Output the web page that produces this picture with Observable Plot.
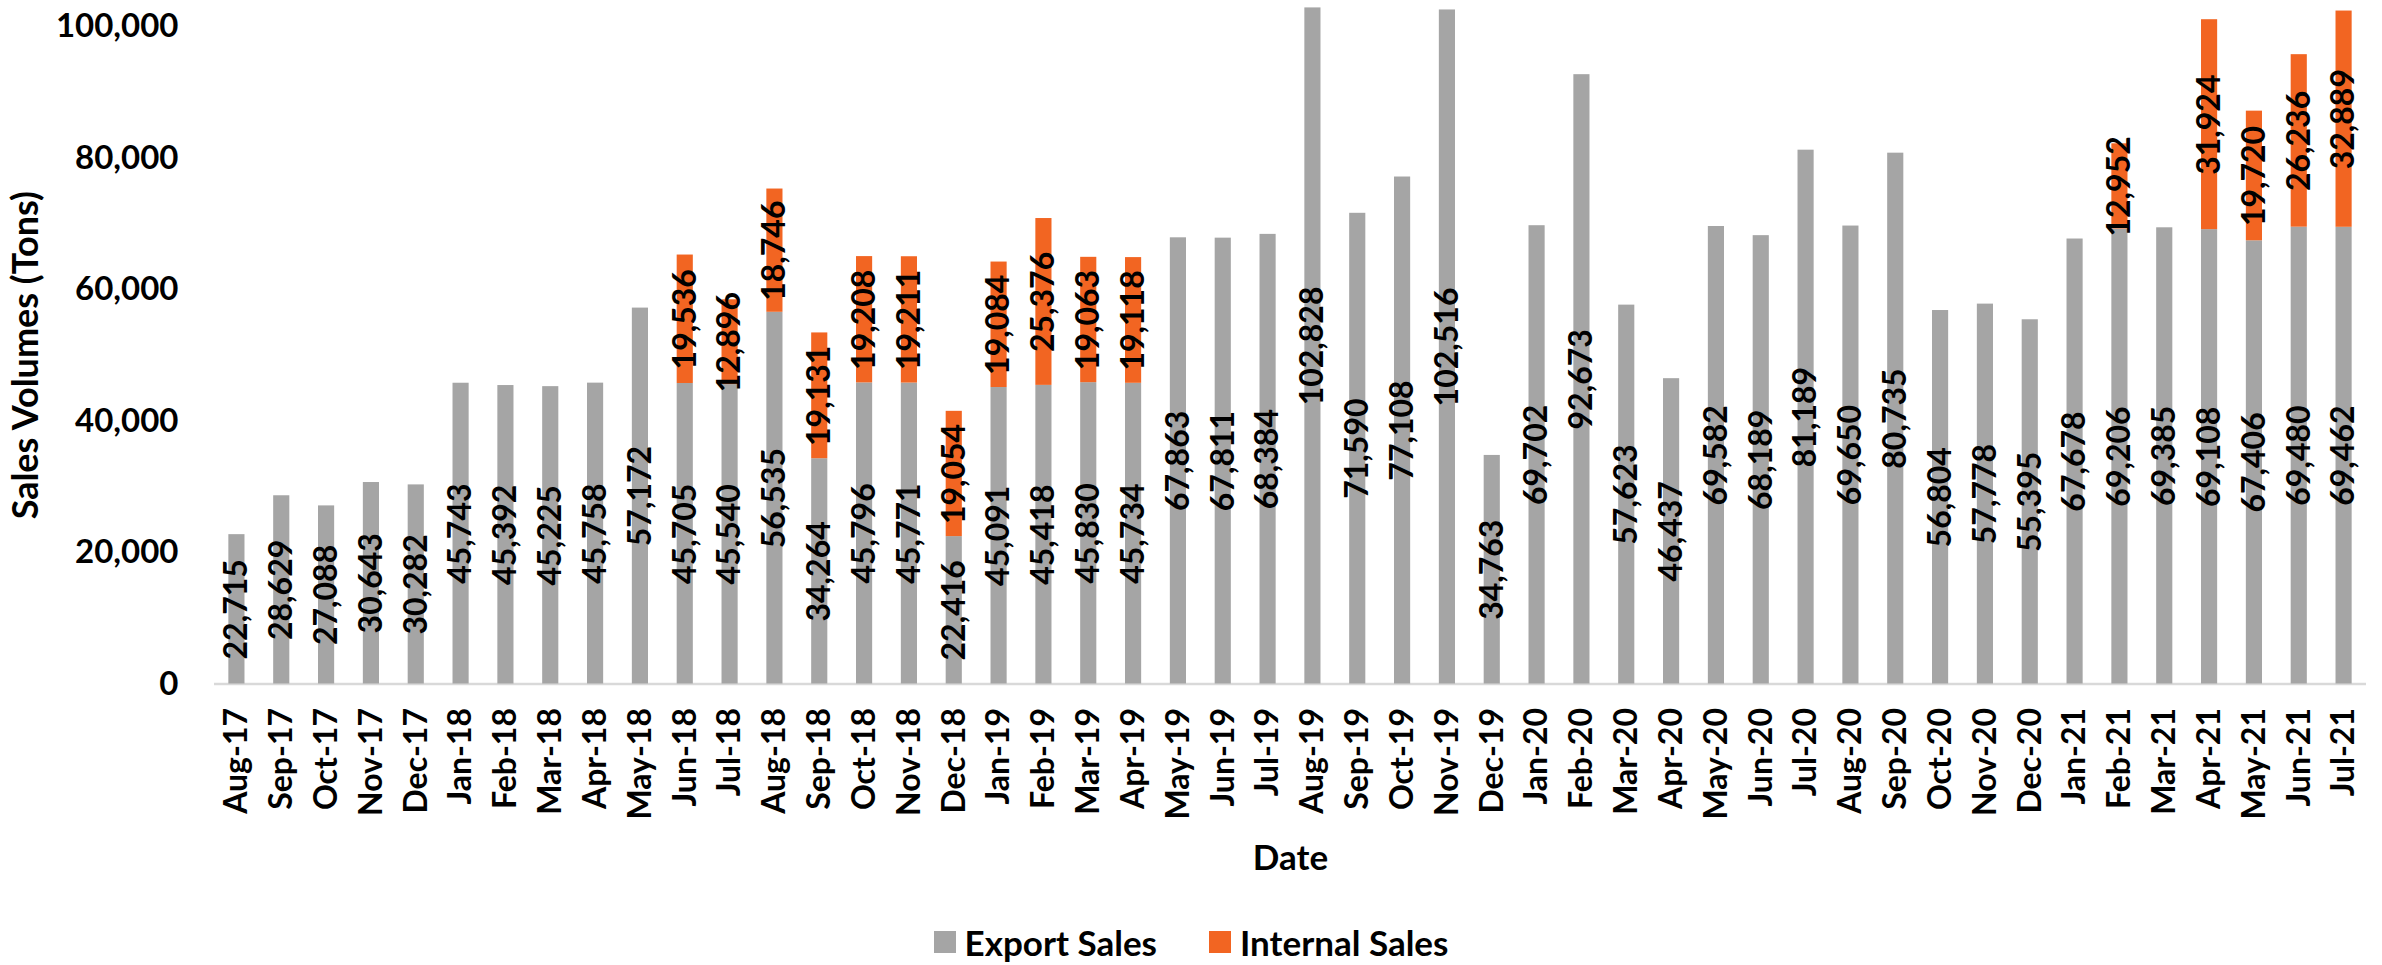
<!DOCTYPE html>
<html>
<head>
<meta charset="utf-8">
<script src="https://cdn.jsdelivr.net/npm/d3@7"></script>
<script src="https://cdn.jsdelivr.net/npm/@observablehq/plot@0.6"></script>
<style>
  html, body { margin: 0; padding: 0; background: #fff; overflow: hidden; }
  #chart svg { display: block; }
  g[aria-label="y-axis tick label"] text { font-family: Lato, "Open Sans", sans-serif; font-size: 33px; font-weight: bold; }
  g[aria-label="y-axis label"] text { font-family: Lato, "Open Sans", sans-serif; font-size: 36px; font-weight: bold; }
  g[aria-label="x-axis tick label"] text { font-family: Lato, "Open Sans", sans-serif; font-size: 32px; font-weight: bold; }
  g[aria-label="x-axis label"] text { font-family: Lato, "Open Sans", sans-serif; font-size: 35px; font-weight: bold; }
  #legend { height: 65px; display: flex; justify-content: center; align-items: flex-start; box-sizing: border-box;
            font-family: Lato, "Open Sans", sans-serif; font-weight: bold; font-size: 35px; color: #000; }
  #legend .item { display: flex; align-items: center; margin: 24px 26px 0 26px; line-height: 36px; }
  #legend .sw { width: 22px; height: 22px; margin-right: 9px; }
</style>
</head>
<body>
<div id="chart"></div>
<div id="legend"></div>
<script>
const months = ["Aug-17","Sep-17","Oct-17","Nov-17","Dec-17",
  "Jan-18","Feb-18","Mar-18","Apr-18","May-18","Jun-18","Jul-18","Aug-18","Sep-18","Oct-18","Nov-18","Dec-18",
  "Jan-19","Feb-19","Mar-19","Apr-19","May-19","Jun-19","Jul-19","Aug-19","Sep-19","Oct-19","Nov-19","Dec-19",
  "Jan-20","Feb-20","Mar-20","Apr-20","May-20","Jun-20","Jul-20","Aug-20","Sep-20","Oct-20","Nov-20","Dec-20",
  "Jan-21","Feb-21","Mar-21","Apr-21","May-21","Jun-21","Jul-21"];
const exportSales = [22715,28629,27088,30643,30282,
  45743,45392,45225,45758,57172,45705,45540,56535,34264,45796,45771,22416,
  45091,45418,45830,45734,67863,67811,68384,102828,71590,77108,102516,34763,
  69702,92673,57623,46437,69582,68189,81189,69650,80735,56804,57778,55395,
  67678,69206,69385,69108,67406,69480,69462];
const internalSales = [0,0,0,0,0,
  0,0,0,0,0,19536,12896,18746,19131,19208,19211,19054,
  19084,25376,19063,19118,0,0,0,0,0,0,0,0,
  0,0,0,0,0,0,0,0,0,0,0,0,
  0,12952,0,31924,19720,26236,32889];
const seriesNames = ["Export Sales", "Internal Sales"];
const seriesColors = ["#A5A5A5", "#F26522"];
const yTicks = [0, 20000, 40000, 60000, 80000, 100000];

const rows = [];
months.forEach((m, i) => {
  rows.push({month: m, series: seriesNames[0], value: exportSales[i], y1: 0, y2: exportSales[i]});
  if (internalSales[i] > 0) {
    rows.push({month: m, series: seriesNames[1], value: internalSales[i], y1: exportSales[i], y2: exportSales[i] + internalSales[i]});
  }
});

const fmt = d3.format(",");
const W = 2382, H = 900;
const chart = Plot.plot({
  width: W, height: H,
  marginLeft: 214, marginRight: 16, marginTop: 26, marginBottom: H - 683.5,
  style: {background: "#fff", overflow: "visible"},
  x: {domain: months, paddingInner: 0.64, paddingOuter: 0.32},
  y: {domain: [0, 100000]},
  color: {domain: seriesNames, range: seriesColors},
  marks: [
    Plot.ruleY([0], {stroke: "#D9D9D9", strokeWidth: 2.5}),
    Plot.barY(rows, {x: "month", y1: "y1", y2: "y2", fill: "series"}),
    Plot.text(rows, {x: "month", y: d => (d.y1 + d.y2) / 2, text: d => fmt(d.value), rotate: -90,
      fontSize: 32, fontWeight: "bold", fontFamily: "Lato", fill: "#000"}),
    Plot.axisY({ticks: yTicks, tickFormat: fmt, tickSize: 0, tickPadding: 36,
      label: "Sales Volumes (Tons)", labelAnchor: "center", labelOffset: 202, labelArrow: false}),
    Plot.axisX({tickRotate: -90, tickSize: 0, tickPadding: 24,
      label: "Date", labelAnchor: "center", labelOffset: 186, labelArrow: false})
  ]
});
document.getElementById("chart").appendChild(chart);

const legend = document.getElementById("legend");
seriesNames.forEach((name, i) => {
  const item = document.createElement("div");
  item.className = "item";
  const sw = document.createElement("span");
  sw.className = "sw";
  sw.style.background = seriesColors[i];
  const label = document.createElement("span");
  label.textContent = name;
  item.appendChild(sw);
  item.appendChild(label);
  legend.appendChild(item);
});
</script>
</body>
</html>
